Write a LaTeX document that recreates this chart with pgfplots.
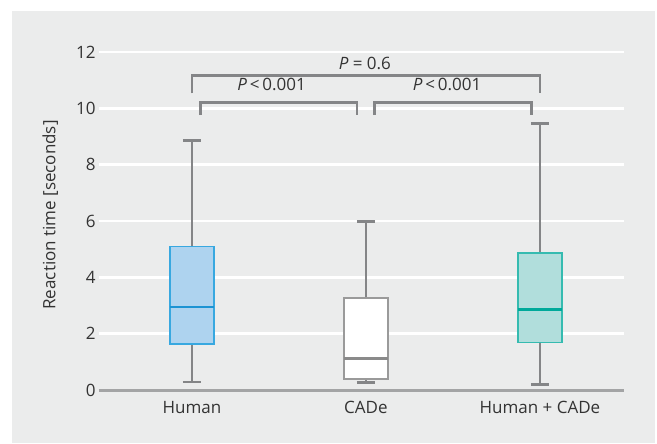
\documentclass[border=0pt]{standalone}
\usepackage{pgfplots}
\pgfplotsset{compat=1.18}
\usepgfplotslibrary{statistics}
\usepackage{fontspec}
\setmainfont{Open Sans}
\definecolor{bg}{HTML}{EBECEC}
\definecolor{axgray}{HTML}{A3A4A5}
\definecolor{wgray}{HTML}{848587}
\definecolor{txt}{HTML}{333333}
\definecolor{hfill}{HTML}{AED3EF}
\definecolor{hedge}{HTML}{38A8E0}
\definecolor{hmed}{HTML}{1C93D3}
\definecolor{cfill}{HTML}{B1DEDC}
\definecolor{cedge}{HTML}{35BBB0}
\definecolor{cmed}{HTML}{00A99A}
\definecolor{gedge}{HTML}{9A9A9A}
\definecolor{gmed}{HTML}{8A8A8A}
\begin{document}
\begin{tikzpicture}
\path[use as bounding box] (-99bp,-54bp) rectangle (558bp,390bp);
\fill[bg] (-87bp,-53bp) rectangle (556bp,379bp);
\begin{axis}[
  scale only axis, width=525bp, height=338bp,
  xmin=-0.534, xmax=2.483, ymin=0, ymax=12,
  ytick={0,2,...,12}, xtick={0,1,2},
  xticklabels={Human,CADe,Human + CADe},
  axis line style={draw=none},
  major tick length=0pt,
  ymajorgrids, grid style={white, line width=2.5bp},
  /pgf/number format/assume math mode=true,
  tick label style={font=\fontsize{17bp}{20bp}\selectfont, text=txt},
  xticklabel style={yshift=-8bp},
  ylabel={Reaction time [seconds]},
  ylabel style={font=\fontsize{17bp}{20bp}\selectfont, text=txt, at={(axis description cs:-0.093,0.518)}, anchor=center},
  boxplot/draw direction=y,
  clip=false,
]
\draw[axgray, line width=3bp] (axis cs:-0.534,0) -- (axis cs:2.483,0);
\addplot[solid, no marks, boxplot prepared={draw direction=y, draw position=0, lower whisker=0.28, lower quartile=1.63, median=2.96, upper quartile=5.09, upper whisker=8.86, box extend=0.253, whisker extend=0.103,
  every box/.style={draw=hedge, fill=hfill, line width=1.3bp},
  every whisker/.style={draw=wgray, line width=2.5bp},
  every median/.style={draw=hmed, line width=2.2bp}}] coordinates {};
\addplot[solid, no marks, boxplot prepared={draw direction=y, draw position=1, lower whisker=0.27, lower quartile=0.39, median=1.12, upper quartile=3.27, upper whisker=5.99, box extend=0.253, whisker extend=0.103,
  every box/.style={draw=gedge, fill=white, line width=1.3bp},
  every whisker/.style={draw=wgray, line width=2.5bp},
  every median/.style={draw=gmed, line width=2.2bp}}] coordinates {};
\addplot[solid, no marks, boxplot prepared={draw direction=y, draw position=2, lower whisker=0.20, lower quartile=1.69, median=2.86, upper quartile=4.86, upper whisker=9.47, box extend=0.253, whisker extend=0.103,
  every box/.style={draw=cedge, fill=cfill, line width=1.3bp},
  every whisker/.style={draw=wgray, line width=2.5bp},
  every median/.style={draw=cmed, line width=2.2bp}}] coordinates {};
\draw[wgray, line width=2.5bp] (axis cs:0,10.53) |- (axis cs:2,11.17) -- (axis cs:2,10.53);
\draw[wgray, line width=2.5bp] (axis cs:0.048,9.76) |- (axis cs:0.95,10.2) -- (axis cs:0.95,9.76);
\draw[wgray, line width=2.5bp] (axis cs:1.05,9.76) |- (axis cs:1.95,10.2) -- (axis cs:1.95,9.76);
\node[anchor=base, text=txt, font=\fontsize{17bp}{20bp}\selectfont, inner sep=0pt] at (axis cs:0.994,11.38) {\textit{P} = 0.6};
\node[anchor=base, text=txt, font=\fontsize{17bp}{20bp}\selectfont, inner sep=0pt] at (axis cs:0.458,10.63) {\textit{P}\,<\,0.001};
\node[anchor=base, text=txt, font=\fontsize{17bp}{20bp}\selectfont, inner sep=0pt] at (axis cs:1.466,10.63) {\textit{P}\,<\,0.001};
\end{axis}
\end{tikzpicture}
\end{document}
